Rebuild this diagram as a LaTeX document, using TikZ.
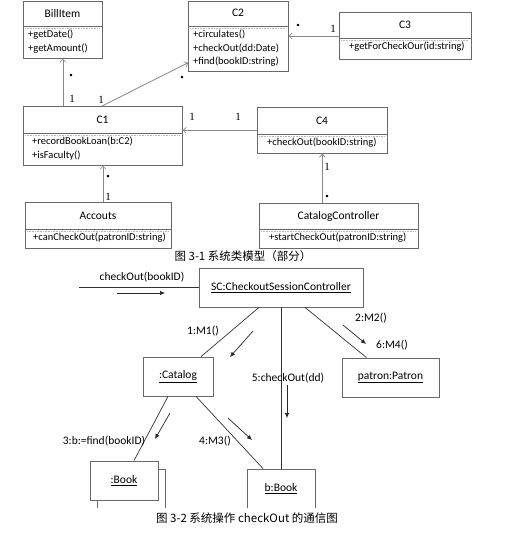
\documentclass[tikz,border=0pt]{standalone}
\usepackage{fontspec}
\setmainfont{Carlito}
\newfontfamily\cjk{Noto Sans CJK SC}
\newfontfamily\multFont{Liberation Serif}
\usepackage{tikz}
\usetikzlibrary{arrows.meta,positioning,calc}
\definecolor{boxC}{RGB}{105,105,105}
\definecolor{assocC}{RGB}{135,135,135}
\definecolor{sepC}{RGB}{185,185,185}
\tikzset{
    assoc/.style  = {draw=assocC, line width=0.8pt,
            -{Straight Barb[length=3pt,width=6pt,line width=0.6pt]}},
    classBox/.style = {draw=boxC, line width=0.8pt, fill=white,
            anchor=north west, inner sep=0pt},
    classTitle/.style = {font=\fontsize{11.5}{13}\selectfont, inner sep=0pt},
    methods/.style = {font=\fontsize{10.5}{13.5}\selectfont, align=left,
            anchor=north west, inner sep=0pt},
    mult/.style   = {font=\multFont\fontsize{11}{12}\selectfont, inner sep=0pt},
    star/.style   = {font=\fontsize{7}{8}\selectfont, inner sep=0pt},
    objBox/.style = {draw=boxC, line width=0.8pt, fill=white, inner sep=0pt,
            font=\fontsize{11.5}{13}\selectfont},
    link/.style   = {draw=black!80, line width=0.7pt},
    msg/.style    = {-{Latex[length=5pt,width=4.5pt]}, draw=black!85, line width=0.7pt},
    msgLabel/.style = {font=\fontsize{11.5}{13}\selectfont, inner sep=0pt},
    caption/.style = {font=\cjk\fontsize{11.5}{13}\selectfont, inner sep=0pt},
}
\newcommand{\ClassBox}[9][5]{% indent, name, x0, y0, x1, ysep, y1, title, methods
    \node[classBox, minimum width=#5pt-#3pt, minimum height=#7pt-#4pt] (#2) at (#3,#4) {};
    % title compartment
    \node[classTitle] (#2T) at ({(#3+#5)/2},{(#4+#6)/2}) {#8};
    % double separator: solid line and a light dotted one below
    \draw[boxC, line width=0.8pt] (#3,#6) -- (#5,#6);
    \draw[sepC, densely dotted, line width=0.6pt] (#3+2,#6+2.5) -- (#5-2,#6+2.5);
    % operations
    \node[methods] (#2M) at (#3+#1,#6+4) {#9};
}

\begin{document}
\begin{tikzpicture}[x=1pt,y=-1pt]
    \useasboundingbox (0,0) rectangle (515,539);
    % class model (fig 3-1)
    \ClassBox{bill}{23}{0.5}{102}{26}{58}{BillItem}{+getDate()\\+getAmount()}
    \ClassBox{c2}{188}{0.5}{288}{26}{71}{C2}{+circulates()\\+checkOut(dd:Date)\\+find(bookID:string)}
    \ClassBox[10]{c3}{339}{12}{471}{38}{59}{C3}{+getForCheckOur(id:string)}
    \ClassBox[9]{c1}{23}{106}{182}{133}{165}{C1}{+recordBookLoan(b:C2)\\+isFaculty()}
    \ClassBox[10]{c4}{257}{107}{387}{134}{153}{C4}{+checkOut(bookID:string)}
    \ClassBox[8]{acc}{25}{202}{171}{229}{248}{Accouts}{+canCheckOut(patronID:string)}
    \ClassBox[10]{cat}{259}{203}{418}{229}{248}{CatalogController}{+startCheckOut(patronID:string)}

    % associations
    \draw[assoc] ([xshift=40pt]c1.north west) -- ([xshift=40pt]bill.south west);
    \draw[assoc] ([xshift=79pt]c1.north west) -- ([yshift=9pt]c2.south west);
    \draw[assoc] (c3.west) -- (c3.west -| c2.east);
    \draw[assoc] (c4.west) -- (c4.west -| c1.east);
    \draw[assoc] ([xshift=78pt]acc.north west) -- ([xshift=78pt]acc.north west |- c1.south);
    \draw[assoc] (cat.north -| c4.south) -- (c4.south);

    % multiplicities
    \node[star] (sBill) at (71,76) {\textbullet};
    \node[mult] (oBill) at (72,99) {1};
    \node[mult] (oC1) at (101,100) {1};
    \node[star] (sC2) at (182,78) {\textbullet};
    \node[star] (sC3) at (298,26) {\textbullet};
    \node[mult] (oC3) at (333,29) {1};
    \node[mult] (oC1b) at (192,117) {1};
    \node[mult] (oC4) at (238,117) {1};
    \node[star] (sAcc) at (108,177) {\textbullet};
    \node[mult] (oAcc) at (108,197) {1};
    \node[mult] (oCat) at (327,167) {1};
    \node[star] (sCat) at (327,197) {\textbullet};

    \node[caption] (cap1) at (243,256) {图 3-1 系统类模型（部分）};

    % communication diagram (fig 3-2), bottom row is cut off
    \begin{scope}
        \clip (0,0) rectangle (515,507);
        \node[objBox, minimum width=164pt, minimum height=39pt] (sc) at (281,287.5) {\underline{SC:CheckoutSessionController}};
        \node[objBox, minimum width=70pt, minimum height=39pt] (catalog) at (178,376.5) {\underline{:Catalog}};
        \node[objBox, minimum width=97pt, minimum height=39pt] (patron) at (390.5,377.5) {\underline{patron:Patron}};
        \node[objBox, minimum width=68pt, minimum height=39pt] (bookBack) at (131,488.5) {};
        \node[objBox, minimum width=68pt, minimum height=39pt] (book) at (124,480.5) {\underline{:Book}};
        \node[objBox, minimum width=68pt, minimum height=40pt] (bbook) at (281,489) {\underline{b:Book}};
    \end{scope}

    % links
    \coordinate (actor) at (79,287.5);
    \draw[link] (actor) -- (sc.west);
    \draw[link] ([xshift=-22pt]sc.south) -- ([xshift=23pt]catalog.north);
    \draw[link] ([xshift=24pt]sc.south) -- ([xshift=-24pt]patron.north);
    \draw[link] (sc.south) -- (bbook.north);
    \draw[link] ([xshift=-10pt]catalog.south) -- ([xshift=10pt]book.north);
    \draw[link] ([xshift=18pt]catalog.south) -- ([xshift=-18pt]bbook.north);

    % messages
    \coordinate (inA) at (117,293);
    \coordinate (inB) at (165,293);
    \coordinate (m1A) at (253,331);
    \coordinate (m1B) at (230,357);
    \coordinate (m2A) at (343,325);
    \coordinate (m2B) at (366,344);
    \coordinate (m5A) at (287,385);
    \coordinate (m5B) at (287,418);
    \coordinate (m3A) at (170,413);
    \coordinate (m3B) at (155,439);
    \coordinate (m4A) at (228,418);
    \coordinate (m4B) at (252,440);
    \draw[msg] (inA) -- (inB);
    \draw[msg] (m1A) -- (m1B);
    \draw[msg] (m2A) -- (m2B);
    \draw[msg] (m5A) -- (m5B);
    \draw[msg] (m3A) -- (m3B);
    \draw[msg] (m4A) -- (m4B);

    \node[msgLabel] (lIn) at (142,277) {checkOut(bookID)};
    \node[msgLabel] (l1) at (203,331) {1:M1()};
    \node[msgLabel] (l2) at (371,318) {2:M2()};
    \node[msgLabel] (l6) at (392,345) {6:M4()};
    \node[msgLabel] (l5) at (288,378) {5:checkOut(dd)};
    \node[msgLabel] (l3) at (104,441) {3:b:=find(bookID)};
    \node[msgLabel] (l4) at (215,441) {4:M3()};

    \node[caption] (cap2) at (247,518) {图 3-2 系统操作 checkOut 的通信图};
\end{tikzpicture}
\end{document}
